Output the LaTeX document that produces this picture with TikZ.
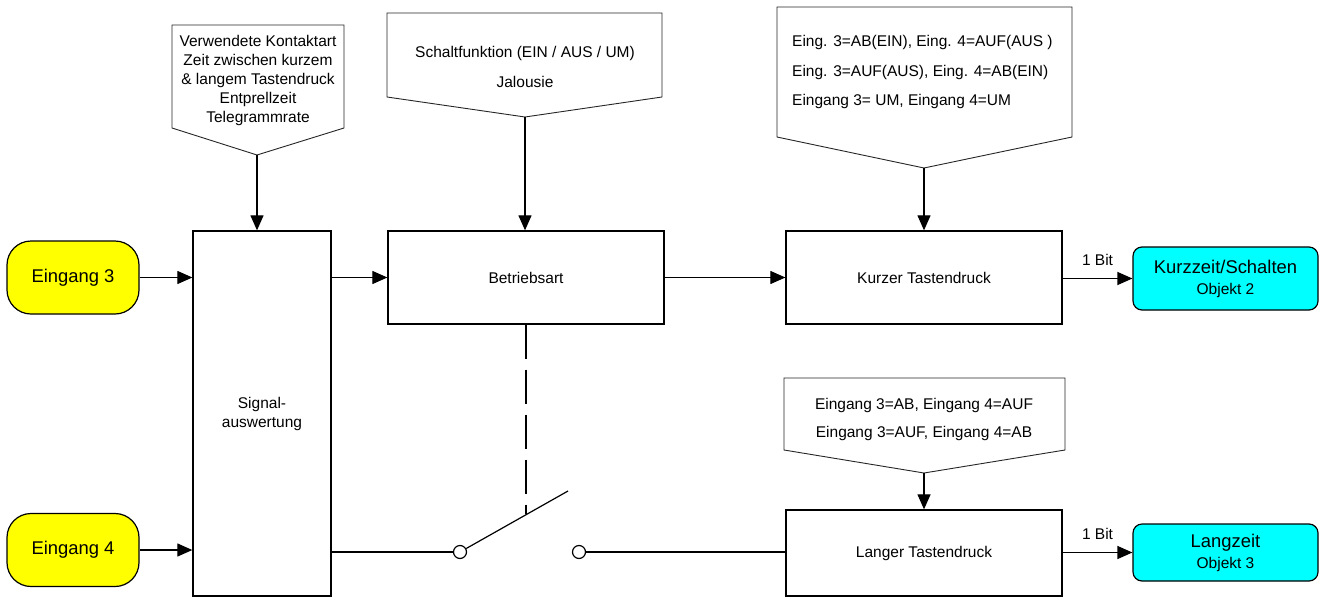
\documentclass[tikz,border=0pt]{standalone}
\usepackage{fontspec}
\setmainfont{Liberation Sans}
\usetikzlibrary{arrows.meta,calc}
\definecolor{pureyellow}{RGB}{255,255,0}
\definecolor{purecyan}{RGB}{0,255,255}
\begin{document}
\begin{tikzpicture}[x=1pt,y=-1pt,
  blk/.style={draw,line width=1.3pt,inner sep=0pt,font=\smallf},
  pill/.style={draw,line width=1.2pt,fill=pureyellow,rounded corners=24pt,minimum width=132pt,minimum height=73pt,inner sep=0pt,font=\bigf},
  obj/.style={draw,line width=1.2pt,fill=purecyan,rounded corners=9pt,minimum width=185pt,inner sep=0pt,align=center,font=\bigf},
  callout/.style={draw=black!85,line width=0.9pt},
  txt/.style={inner sep=0pt,font=\smallf},
  arr/.style={line width=1.2pt,-{Triangle[length=15pt,width=13pt]}},
  conn/.style={line width=1.2pt},
  sw/.style={circle,draw,line width=1.2pt,fill=white,minimum size=13pt,inner sep=0pt}
]
\newcommand{\smallf}{\fontsize{15.5}{19}\selectfont}
\newcommand{\bigf}{\fontsize{18.4}{22}\selectfont}
\useasboundingbox (0,0) rectangle (1321,597);

% callouts
\draw[callout] (172,25) -- (344,25) -- (344,128) -- (257,155) -- (172,128) -- cycle;
\coordinate (c1tip) at (257,155);
\node[txt,align=center] (c1t) at (258,80) {Verwendete Kontaktart\\Zeit zwischen kurzem\\\&{} langem Tastendruck\\Entprellzeit\\Telegrammrate};

\draw[callout] (387,13) -- (662,13) -- (662,97) -- (525,117) -- (387,97) -- cycle;
\coordinate (c2tip) at (525,117);
\node[txt,align=center,font=\fontsize{15.5}{30}\selectfont] (c2t) at (525,67) {Schaltfunktion (EIN / AUS / UM)\\Jalousie};

\draw[callout] (777,7) -- (1072,7) -- (1072,137) -- (924,168) -- (777,137) -- cycle;
\coordinate (c3tip) at (924,168);
\node[txt,align=left,anchor=west,font=\fontsize{15.5}{29.5}\selectfont] (c3t) at (792,72) {Eing. 3=AB(EIN), Eing. 4=AUF(AUS )\\Eing. 3=AUF(AUS), Eing. 4=AB(EIN)\\Eingang 3= UM, Eingang 4=UM};

\draw[callout] (784,378) -- (1065,378) -- (1065,450) -- (924,473) -- (784,450) -- cycle;
\coordinate (c4tip) at (924,473);
\node[txt,align=center,font=\fontsize{15.5}{28}\selectfont] (c4t) at (924,419) {Eingang 3=AB, Eingang 4=AUF\\Eingang 3=AUF, Eingang 4=AB};

% blocks
\node[blk,minimum width=138pt,minimum height=365pt,align=center] (sig) at (262,413.5) {Signal-\\auswertung};
\node[blk,minimum width=276pt,minimum height=93pt] (betr) at (526,277.5) {Betriebsart};
\node[blk,minimum width=276pt,minimum height=93pt] (kurz) at (924,277.5) {Kurzer Tastendruck};
\node[blk,minimum width=276pt,minimum height=86pt] (lang) at (924,553) {Langer Tastendruck};

\node[pill] (e3) at (73,277.5) {Eingang 3};
\node[pill] (e4) at (73,550) {Eingang 4};

\node[obj,minimum height=63pt] (kz) at (1225.5,278.5) {Kurzzeit/Schalten\\[-1pt]{\smallf Objekt 2}};
\node[obj,minimum height=57pt] (lz) at (1225.5,552.5) {Langzeit\\[-1pt]{\smallf Objekt 3}};

% switch
\node[sw] (s1) at (460,552) {};
\node[sw] (s2) at (579,552) {};
\coordinate (bladeend) at (568,491);
\coordinate (bladehit) at (526,514);

% connectors
\draw[arr] (c1tip) -- (c1tip |- sig.north);
\draw[arr] (c2tip) -- (c2tip |- betr.north);
\draw[arr] (c3tip) -- (c3tip |- kurz.north);
\draw[arr] (c4tip) -- (c4tip |- lang.north);

\draw[arr] (e3.east) -- (sig.west |- e3.east);
\draw[arr] (e4.east) -- (sig.west |- e4.east);
\draw[arr] (sig.east |- betr.west) -- (betr.west);
\draw[arr] (betr.east) -- (kurz.west);
\draw[arr] (kurz.east |- kz.west) -- (kz.west) node[txt,pos=0.5,above=12pt] (b1) {1 Bit};
\draw[arr] (lang.east |- lz.west) -- (lz.west) node[txt,pos=0.5,above=12pt] (b2) {1 Bit};

\draw[conn] (sig.east |- s1.west) -- (s1.west);
\draw[conn] (s1) -- (bladeend);
\draw[conn,dash pattern=on 34pt off 11pt] (betr.south -| bladehit) -- (bladehit);
\draw[conn] (s2.east) -- (s2.east -| lang.west);
\end{tikzpicture}
\end{document}
